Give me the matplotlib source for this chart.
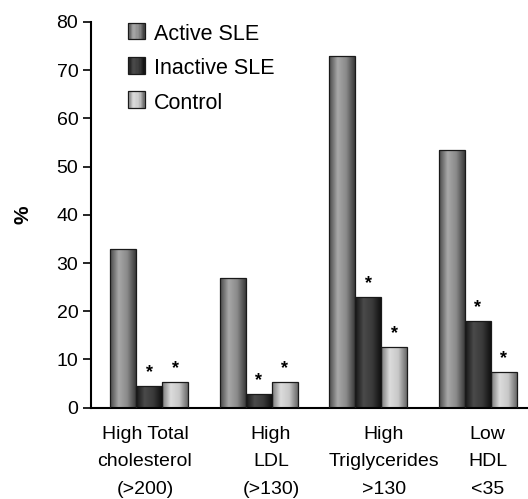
import numpy as np
import matplotlib
matplotlib.use("Agg")
import matplotlib.pyplot as plt
from matplotlib.colors import LinearSegmentedColormap
from matplotlib.patches import Rectangle
from matplotlib.legend_handler import HandlerBase

plt.rcParams['font.family'] = ['Liberation Sans', 'DejaVu Sans']

# data
groups = ["High Total\ncholesterol\n(>200)", "High\nLDL\n(>130)",
          "High\nTriglycerides\n>130", "Low\nHDL\n<35"]
active = [33, 27, 73, 53.5]
inactive = [4.6, 2.8, 22.9, 18.0]
control = [5.4, 5.4, 12.5, 7.5]
series_names = ["Active SLE", "Inactive SLE", "Control"]
label_shift = [-0.04, 0.11, 0.14, 0.09]   # labels sit a bit right of the groups

# cylinder-ish shading for each series (edge, centre, edge)
cmaps = [
    LinearSegmentedColormap.from_list("a", ["#4a4a4a", "#a8a8a8", "#8a8a8a", "#3c3c3c"]),
    LinearSegmentedColormap.from_list("i", ["#151515", "#4a4a4a", "#3a3a3a", "#111111"]),
    LinearSegmentedColormap.from_list("c", ["#7a7a7a", "#dcdcdc", "#c8c8c8", "#6a6a6a"]),
]
grad = np.linspace(0, 1, 64).reshape(1, -1)

fig = plt.figure(figsize=(5.28, 4.99), dpi=100)
ax = fig.add_axes([0.172, 0.183, 0.828, 0.773])

x = np.arange(len(groups))
w = 0.237
offsets = [-w, 0, w]

for k, vals in enumerate([active, inactive, control]):
    bars = ax.bar(x + offsets[k], vals, width=w, facecolor="none",
                  edgecolor="#1a1a1a", linewidth=0.9, zorder=3)
    for b in bars:
        x0, y0 = b.get_x(), b.get_y()
        im = ax.imshow(grad, cmap=cmaps[k], aspect="auto", zorder=2,
                       extent=[x0, x0 + b.get_width(), y0, y0 + b.get_height()])
        im.set_clip_path(b)

# significance stars
for k, vals in [(1, inactive), (2, control)]:
    for xi, v in zip(x + offsets[k], vals):
        ax.text(xi, v + 1.0, "*", ha="center", va="bottom", fontsize=13,
                fontweight="bold", zorder=4)

ax.set_xlim(-0.534, 3.457)
ax.set_ylim(0, 80)
ax.set_yticks(np.arange(0, 81, 10))
ax.set_xticks(x + np.array(label_shift))
ax.set_xticklabels(groups, linespacing=1.8)
ax.tick_params(axis="x", length=0, pad=13, labelsize=14)
ax.tick_params(axis="y", length=6, width=1.2, labelsize=14, pad=3)
ax.spines["top"].set_visible(False)
ax.spines["right"].set_visible(False)
ax.spines["left"].set_linewidth(1.5)
ax.spines["bottom"].set_linewidth(1.5)
ax.set_ylabel("%", fontsize=15, fontweight="bold", labelpad=17)


class GradHandler(HandlerBase):
    def __init__(self, cmap):
        super().__init__()
        self.cmap = cmap

    def create_artists(self, legend, orig, xd, yd, width, height, fontsize, trans):
        n = 12
        arts = []
        for i in range(n):
            r = Rectangle((xd + width * i / n, yd), width / n, height,
                          facecolor=self.cmap((i + 0.5) / n), edgecolor="none",
                          transform=trans)
            arts.append(r)
        arts.append(Rectangle((xd, yd), width, height, facecolor="none",
                              edgecolor="#1a1a1a", linewidth=0.9, transform=trans))
        return arts


handles = [Rectangle((0, 0), 1, 1) for _ in series_names]
ax.legend(handles, series_names, handler_map={h: GradHandler(c) for h, c in zip(handles, cmaps)},
          loc="upper left", bbox_to_anchor=(0.04, 1.045), frameon=False, fontsize=15.5,
          handlelength=0.8, handleheight=0.8, handletextpad=0.4, labelspacing=0.62)

fig.savefig("out.png", dpi=100)
